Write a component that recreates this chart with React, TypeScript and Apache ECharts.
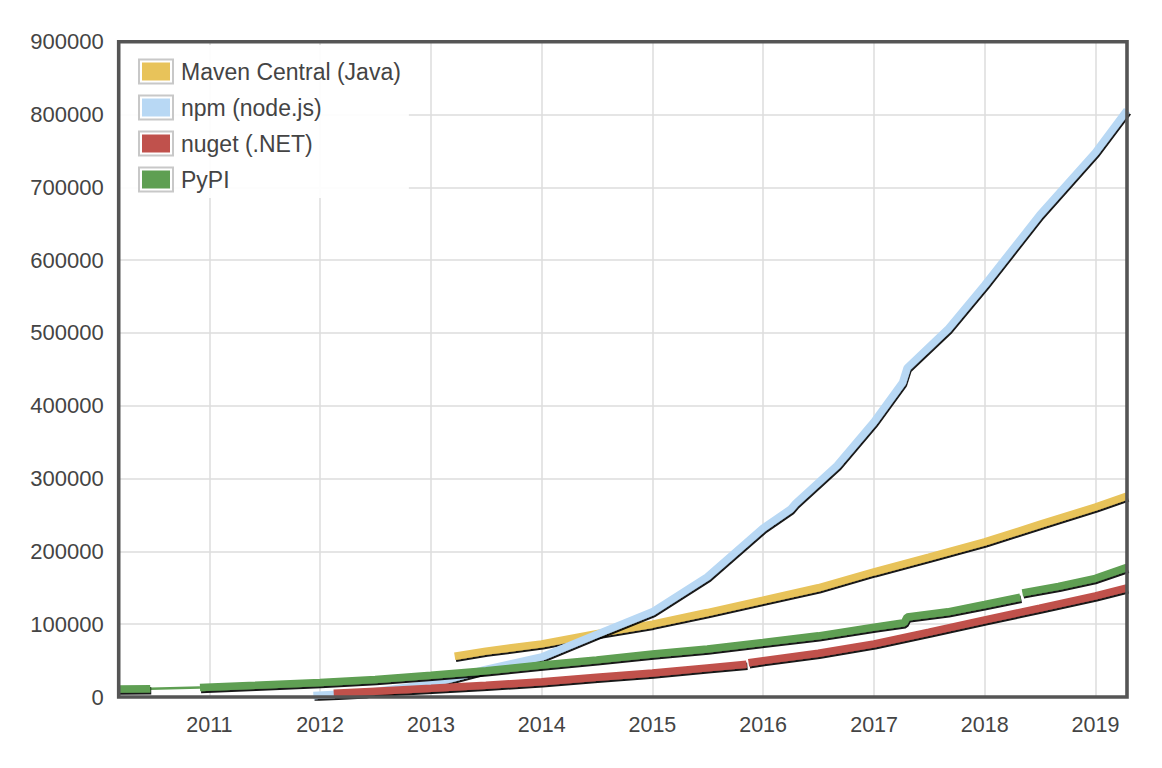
import { useEffect, useRef } from "react";
import * as echarts from "echarts";

// ---- data ----
const seriesNames = ["Maven Central (Java)", "npm (node.js)", "nuget (.NET)", "PyPI"];

const mavenDates = ["2013-03-20", "2013-07-01", "2014-01-01", "2014-07-01", "2015-01-01", "2015-07-01", "2016-01-01", "2016-07-01", "2017-01-01", "2017-07-01", "2018-01-01", "2018-07-01", "2019-01-01", "2019-04-15"];
const mavenValues = [56000, 63000, 73000, 87000, 100000, 116000, 133000, 150000, 172000, 192000, 213000, 237000, 261000, 276000];

const npmDates = ["2011-12-10", "2012-06-01", "2013-01-01", "2013-07-01", "2014-01-01", "2014-07-01", "2015-01-01", "2015-07-01", "2016-01-01", "2016-04-01", "2016-04-15", "2016-09-01", "2017-01-01", "2017-04-05", "2017-04-20", "2017-09-01", "2018-01-01", "2018-07-01", "2019-01-01", "2019-04-15"];
const npmValues = [2000, 6000, 18000, 38000, 55000, 86000, 117000, 165000, 232000, 258000, 265000, 318000, 378000, 432000, 452000, 505000, 566000, 662000, 748000, 806000];

const nugetDates = ["2012-02-15", "2012-07-01", "2013-01-01", "2013-07-01", "2014-01-01", "2014-07-01", "2015-01-01", "2015-07-01", "2015-11-07", "2015-11-10", "2015-11-14", "2016-01-01", "2016-07-01", "2017-01-01", "2017-07-01", "2018-01-01", "2018-07-01", "2019-01-01", "2019-04-15"];
const nugetValues = [5000, 8000, 12000, 16000, 21000, 27000, 33000, 40000, 45000, null, 47000, 50000, 60000, 73000, 89000, 106000, 122000, 139000, 150000];

const pypiDates = ["2010-03-08", "2010-06-20", "2010-09-01", "2010-12-01", "2011-06-01", "2012-01-01", "2012-07-01", "2013-01-01", "2013-07-01", "2014-01-01", "2014-07-01", "2015-01-01", "2015-07-01", "2016-01-01", "2016-07-01", "2017-01-01", "2017-04-10", "2017-04-20", "2017-09-01", "2018-01-01", "2018-04-28", "2018-05-01", "2018-05-05", "2018-09-01", "2019-01-01", "2019-04-15"];
const pypiValues = [11000, 11500, null, 13000, 16000, 20000, 24000, 30000, 36000, 44000, 51000, 59000, 66000, 75000, 84000, 96000, 102000, 110000, 117000, 127000, 137000, null, 143000, 152000, 163000, 178000];

// thin PyPI bridge over the 2010 gap
const pypiBridgeDates = ["2010-06-20", "2010-12-01"];
const pypiBridgeValues = [11500, 13000];

const yTicks = [0, 100000, 200000, 300000, 400000, 500000, 600000, 700000, 800000, 900000];
const xMin = "2010-03-08";
const xMax = "2019-04-15";

// ---- styles / layout ----
const COLORS = ["#e8c35a", "#b8d8f4", "#c0514c", "#5e9f52"];
const FONT = "'Liberation Sans', Arial, Helvetica, sans-serif";
const TEXT = "#444";
const PLOT = { left: 118.7, top: 41.7, right: 1127, bottom: 697 };

const pairs = (d: string[], v: (number | null)[]) => d.map((x, i) => [x, v[i]]);

export default function App() {
  const ref = useRef<HTMLDivElement>(null);

  useEffect(() => {
    if (!ref.current) return;
    const chart = echarts.init(ref.current, undefined, { renderer: "svg" });
    const lineSeries = (name: string, color: string, data: any[]) => ({
      name,
      type: "line",
      data,
      showSymbol: false,
      connectNulls: false,
      color,
      itemStyle: { color },
      lineStyle: {
        color,
        width: 7.5,
        shadowColor: "rgba(0,0,0,0.9)",
        shadowBlur: 1.5,
        shadowOffsetX: 1,
        shadowOffsetY: 2,
      },
    });

    const legendRows = [0, 1, 2, 3];
    const outlines = legendRows.map((i) => ({
      type: "rect",
      z: 100,
      silent: true,
      shape: { x: 139, y: 59.5 + i * 36, width: 34, height: 24 },
      style: { fill: "none", stroke: "#c8c8c8", lineWidth: 2 },
    }));
    const border = {
      type: "rect",
      z: 60,
      silent: true,
      shape: {
        x: PLOT.left,
        y: PLOT.top,
        width: PLOT.right - PLOT.left,
        height: PLOT.bottom - PLOT.top,
      },
      style: { fill: "none", stroke: "#555", lineWidth: 3.6 },
    };

    chart.setOption({
      animation: false,
      grid: {
        left: PLOT.left,
        right: 1162 - PLOT.right,
        top: PLOT.top,
        bottom: 768 - PLOT.bottom,
        show: false,
      },
      legend: {
        data: seriesNames,
        orient: "vertical",
        left: 120,
        top: 45,
        padding: [15, 8, 7, 22],
        itemGap: 13,
        itemWidth: 28,
        itemHeight: 18,
        icon: "rect",
        backgroundColor: "rgba(255,255,255,0.92)",
        itemStyle: { borderWidth: 0, shadowBlur: 0, shadowColor: "rgba(0,0,0,0)" },
        lineStyle: { width: 0, opacity: 0 },
        textStyle: {
          fontFamily: FONT,
          fontSize: 23,
          color: TEXT,
          padding: [0, 0, 0, 6],
        },
        selectedMode: false,
      },
      graphic: [border, ...outlines],
      xAxis: {
        type: "time",
        min: xMin,
        max: xMax,
        splitNumber: 9,
        minInterval: 300 * 24 * 3600 * 1000,
        axisLine: { show: false },
        axisTick: { show: false },
        splitLine: { show: true, lineStyle: { color: "#dcdcdc", width: 1.5 } },
        axisLabel: {
          formatter: (v: number) => String(new Date(v).getFullYear()),
          fontFamily: FONT,
          fontSize: 21.5,
          color: TEXT,
          margin: 17,
          showMinLabel: false,
          showMaxLabel: false,
        },
      },
      yAxis: {
        type: "value",
        min: yTicks[0],
        max: yTicks[yTicks.length - 1],
        interval: yTicks[1] - yTicks[0],
        axisLine: { show: false },
        axisTick: { show: false },
        splitLine: { show: true, lineStyle: { color: "#dcdcdc", width: 1.5 } },
        axisLabel: {
          formatter: (v: number) => String(v),
          fontFamily: FONT,
          fontSize: 22,
          color: TEXT,
          margin: 15,
        },
      },
      series: [
        lineSeries(seriesNames[0], COLORS[0], pairs(mavenDates, mavenValues)),
        lineSeries(seriesNames[1], COLORS[1], pairs(npmDates, npmValues)),
        lineSeries(seriesNames[2], COLORS[2], pairs(nugetDates, nugetValues)),
        {
          name: "PyPI bridge",
          type: "line",
          data: pairs(pypiBridgeDates, pypiBridgeValues),
          showSymbol: false,
          color: COLORS[3],
          lineStyle: { color: COLORS[3], width: 2.5 },
        },
        lineSeries(seriesNames[3], COLORS[3], pairs(pypiDates, pypiValues)),
      ],
    });
    return () => chart.dispose();
  }, []);

  return (
    <div
      ref={ref}
      style={{ position: "fixed", left: 0, top: 0, width: 1162, height: 768, background: "#fff" }}
    />
  );
}
